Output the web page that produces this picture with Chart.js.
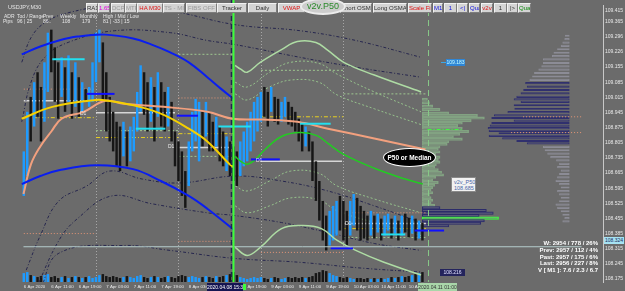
<!DOCTYPE html>
<html>
<head>
<meta charset="utf-8">
<title>USDJPY,M30</title>
<script src="https://cdn.jsdelivr.net/npm/chart.js@4.4.1/dist/chart.umd.min.js"></script>
<style>
  html, body { margin: 0; padding: 0; background: #6b6b6b; }
  #wrap { position: relative; width: 625px; height: 291px; overflow: hidden; font-family: "Liberation Sans", "DejaVu Sans", sans-serif; }
  #chart { position: absolute; left: 0; top: 0; }
  .ov { position: absolute; white-space: nowrap; }
  .btn { position: absolute; top: 3px; height: 10px; line-height: 8px; font-size: 6px; text-align: center; background: #d4d4d4;
         border: 1px solid; border-color: #f2f2f2 #7c7c7c #7c7c7c #f2f2f2; box-sizing: border-box; color: #303030; white-space: nowrap; overflow: hidden; }
  .info { position: absolute; font-size: 5px; color: #e6e6e6; white-space: nowrap; }
  .stats { position: absolute; right: 27px; top: 240px; font-size: 6px; font-weight: bold; color: #fff; text-align: right; line-height: 6.8px; }
  .tag { position: absolute; font-size: 5px; color: #e8e8e8; }
</style>
</head>
<body>
<div id="wrap">
  <canvas id="chart" width="625" height="291"></canvas>

  <div class="info" style="left:8px;top:4px;font-size:5.5px;">USDJPY,M30</div>
  <div class="info" style="left:4px;top:13px;">ADR</div>
  <div class="info" style="left:17px;top:13px;">Tod / Range</div>
  <div class="info" style="left:43px;top:13px;">Prev</div>
  <div class="info" style="left:60px;top:13px;">Weekly</div>
  <div class="info" style="left:80px;top:13px;">Monthly</div>
  <div class="info" style="left:103px;top:13px;">High / Mid / Low</div>
  <div class="info" style="left:3px;top:18px;">Pips</div>
  <div class="info" style="left:17px;top:18px;">96 | 25</div>
  <div class="info" style="left:43px;top:18px;">86..</div>
  <div class="info" style="left:62px;top:18px;">108</div>
  <div class="info" style="left:82px;top:18px;">179</div>
  <div class="info" style="left:103px;top:18px;">81 | -33 | 15</div>

  <div class="btn" style="left:86px;width:12px;">RA1</div>
  <div class="btn" style="left:98px;width:12px;color:#e000e0;">1.65</div>
  <div class="btn" style="left:111px;width:14px;color:#9a9a9a;">DCP</div>
  <div class="btn" style="left:125px;width:12px;color:#9a9a9a;">MTF</div>
  <div class="btn" style="left:137px;width:26px;color:#e01010;">HA M30</div>
  <div class="btn" style="left:163px;width:22px;color:#9a9a9a;">TS - MI</div>
  <div class="btn" style="left:186px;width:31px;color:#9a9a9a;">FIBS OFF</div>
  <div class="btn" style="left:217px;width:30px;">Tracker</div>
  <div class="btn" style="left:248px;width:29px;">Daily</div>
  <div class="btn" style="left:278px;width:27px;color:#e01010;">VWAP</div>
  <div class="btn" style="left:340px;width:32px;text-align:right;padding-right:2px;">Short OSMA</div>
  <div class="btn" style="left:373px;width:34px;">Long OSMA</div>
  <div class="btn" style="left:408px;width:24px;color:#e01010;">Scale Fix</div>
  <div class="btn" style="left:433px;width:10px;color:#1010e0;">M1</div>
  <div class="btn" style="left:444px;width:13px;color:#1010e0;">1</div>
  <div class="btn" style="left:457px;width:11px;color:#1010e0;">&lt;|</div>
  <div class="btn" style="left:469px;width:11px;color:#1010e0;">Qua</div>
  <div class="btn" style="left:481px;width:12px;color:#e01010;">v2v</div>
  <div class="btn" style="left:494px;width:13px;">1</div>
  <div class="btn" style="left:507px;width:11px;">|&gt;</div>
  <div class="btn" style="left:518px;width:13px;color:#108a10;">Qua</div>
  <div class="ov" style="left:300px;top:-2px;width:46px;height:17px;box-sizing:border-box;border:2px solid #ececec;border-radius:50%;background:#cdcdcd;color:#2a8a2a;font-size:9px;line-height:13px;text-align:center;">v2v.P50</div>

  <div class="tag" style="left:80px;top:110px;">D1</div>
  <div class="tag" style="left:168px;top:143px;">D1</div>
  <div class="tag" style="left:256px;top:157px;">D1</div>
  <div class="tag" style="left:345px;top:220px;">D1</div>

  <div class="ov" style="left:441px;top:62px;width:5px;height:1px;background:#3aa8e8;"></div>
  <div class="ov" style="left:446px;top:59px;width:19px;height:7px;background:#2f86d6;color:#c8ffff;font-size:5px;line-height:7px;text-align:center;">109.183</div>
  <div class="ov" style="left:440px;top:269px;width:25px;height:7px;background:#24245c;color:#e0e0ff;font-size:5px;line-height:7px;text-align:center;">108.216</div>

  <div class="ov" style="left:383px;top:148px;width:53px;height:19px;box-sizing:border-box;background:#000;border:1px solid #fff;border-radius:50%;color:#fff;font-size:6.5px;font-weight:bold;line-height:17px;text-align:center;">P50 or Median</div>
  <div class="ov" style="left:451px;top:177px;width:25px;height:15px;box-sizing:border-box;background:#f2f2f2;border:1px solid #8a8a8a;color:#4a68a8;font-size:5.5px;line-height:6px;padding:1px 2px;">v2v_P50<br>108.685</div>

  <div class="stats">W: 2954 / 778 / 26%<br>Prev: 2957 / 112 / 4%<br>Past: 2957 / 175 / 6%<br>Last: 2956 / 227 / 8%<br>V [ M1 ]: 7.6 / 2.3 / 6.7</div>

  <div class="ov" style="left:604px;top:237px;width:20px;height:7px;background:#a6e2f2;color:#1a2a5a;font-size:5px;line-height:7px;text-align:center;">108.324</div>
  <div class="ov" style="left:207px;top:283px;width:36px;height:8px;background:#151552;color:#fff;font-size:5px;line-height:8px;text-align:center;">2020.04.08 15:30</div>
  <div class="ov" style="left:243px;top:284px;width:3px;height:6px;background:#3cff3c;"></div>
  <div class="ov" style="left:418px;top:283px;width:39px;height:8px;background:#a9d6a9;color:#333;font-size:5px;line-height:8px;text-align:center;">2020.04.11 01:00</div>
</div>

<script>
// time axis in hours from 6 Apr 2020 00:00
const X_MIN = 2.9;
const X_MAX = 165.3;
const Y_MIN = 108.161;
const Y_MAX = 109.442;

const TICK_HOURS = [3, 11, 19, 27, 35, 43, 51, 67, 75, 83, 91, 99, 107, 115];
const TICK_LABELS = ["6 Apr 2020", "6 Apr 11:00", "6 Apr 19:00", "7 Apr 03:00", "7 Apr 11:00", "7 Apr 19:00", "8 Apr 03:00",
  "8 Apr 19:00", "9 Apr 03:00", "9 Apr 11:00", "9 Apr 19:00", "10 Apr 03:00", "10 Apr 11:00", "10 Apr 19:00"];
const PRICE_TICKS = [109.415, 109.365, 109.296, 109.226, 109.155, 109.085, 109.015, 108.945, 108.875, 108.805,
  108.735, 108.665, 108.595, 108.525, 108.455, 108.385, 108.315, 108.245, 108.175];

// hourly candles, first one at 6 Apr 03:00
const CANDLE_START_HOUR = 3;
const CANDLE_HIGH = [
  108.765, 108.948, 109.017, 109.085, 109.131, 109.063, 109.177, 109.314, 109.328, 109.246,
  109.177, 109.200, 109.154, 109.209, 109.131, 109.177, 109.108, 109.085, 109.053, 109.063,
  109.177, 109.314, 109.328, 109.269, 109.131, 109.017, 108.948, 108.902, 108.880, 108.902,
  108.857, 108.880, 108.925, 109.040, 109.163, 109.131, 109.085, 109.108, 109.063, 109.131,
  109.085, 109.040, 109.063, 108.994, 108.857, 108.811, 108.765, 108.674, 108.811, 108.948,
  109.008, 108.994, 108.948, 108.994, 108.948, 108.902, 108.925, 108.880, 108.857, 108.834,
  108.811, 108.788, 108.765, 108.811, 108.857, 108.902, 108.948, 108.994, 109.017, 109.040,
  109.063, 109.040, 109.063, 109.017, 109.008, 108.994, 109.017, 108.994, 108.971, 108.948,
  108.916, 108.902, 108.880, 108.857, 108.811, 108.719, 108.628, 108.536, 108.468, 108.490,
  108.513, 108.536, 108.559, 108.536, 108.490, 108.536, 108.568, 108.550, 108.513, 108.490,
  108.468, 108.490, 108.468, 108.477, 108.454, 108.468, 108.477, 108.454, 108.468, 108.445,
  108.468, 108.477, 108.458, 108.468, 108.454, 108.445, 108.436
];
const CANDLE_LOW = [
  108.559, 108.651, 108.811, 108.880, 108.925, 108.811, 108.902, 109.040, 109.131, 108.994,
  108.916, 109.017, 108.948, 108.994, 108.916, 108.971, 108.925, 108.948, 108.994, 108.971,
  108.994, 109.085, 109.177, 108.994, 108.857, 108.811, 108.765, 108.696, 108.674, 108.742,
  108.696, 108.719, 108.765, 108.857, 108.948, 108.934, 108.857, 108.902, 108.811, 108.925,
  108.880, 108.857, 108.880, 108.811, 108.696, 108.628, 108.559, 108.504, 108.605, 108.765,
  108.811, 108.719, 108.788, 108.834, 108.765, 108.765, 108.788, 108.719, 108.696, 108.674,
  108.651, 108.628, 108.605, 108.651, 108.696, 108.719, 108.765, 108.811, 108.857, 108.902,
  108.925, 108.880, 108.948, 108.902, 108.889, 108.902, 108.925, 108.889, 108.880, 108.857,
  108.811, 108.765, 108.788, 108.765, 108.628, 108.536, 108.445, 108.353, 108.307, 108.330,
  108.353, 108.376, 108.399, 108.353, 108.330, 108.376, 108.422, 108.399, 108.353, 108.362,
  108.353, 108.376, 108.362, 108.390, 108.353, 108.376, 108.399, 108.362, 108.385, 108.353,
  108.376, 108.390, 108.367, 108.385, 108.353, 108.362, 108.353
];
const CANDLE_UP = [
  1, 1, 0, 1, 0, 0, 1, 1, 0, 0,
  0, 1, 0, 1, 0, 1, 0, 1, 0, 1,
  1, 1, 1, 0, 0, 0, 0, 0, 0, 1,
  0, 1, 1, 1, 1, 0, 0, 1, 0, 1,
  0, 0, 1, 0, 0, 0, 0, 0, 1, 1,
  1, 1, 0, 1, 0, 0, 1, 0, 0, 1,
  0, 0, 0, 1, 1, 1, 1, 1, 1, 1,
  0, 0, 1, 0, 0, 1, 1, 0, 0, 0,
  0, 0, 1, 0, 0, 0, 0, 0, 0, 1,
  1, 1, 0, 0, 0, 1, 1, 0, 0, 0,
  0, 1, 0, 1, 0, 1, 1, 0, 1, 0,
  1, 0, 0, 1, 0, 1, 0
];
const VOLUME = [
  2250, 2500, 1750, 1500, 1250, 1500, 1750, 2000,
  1250, 1500, 1000, 1250, 1500, 1000, 1250, 1500, 1250, 1000,
  1250, 1500, 1000, 1250, 1750, 2000, 1500, 1250, 1500, 1250,
  1000, 1250, 1500, 1250, 1000, 1500, 1750, 1250, 1000, 1250,
  1500, 1250, 1000, 1250, 1500, 1250, 1000, 1500, 1750, 1500,
  1250, 1500, 1250, 1000, 1250, 1500, 1250, 1000, 1500, 1250,
  1500, 1750, 2000, 2500, 1750, 1250, 1000, 750, 1000, 1250,
  1000, 1250, 1000, 750, 1000, 1250, 1000, 750, 1000, 1250,
  1000, 1250, 1000, 1250, 1000, 1250, 1500, 2250, 2500, 3000,
  2750, 2250, 1750, 1500, 1250, 1000, 1250, 1000, 750, 1000,
  1000, 750, 1000, 750, 1000, 750, 1000, 750, 1000, 1250,
  1000, 1250, 1500, 1250, 1500, 1750, 2000, 2250, 2500
];
const VOLUME_AXIS_MAX = 70000;

// curved indicator lines (hour, price)
const ARC_UPPER_H = [2.4, 7.8, 13.2, 18.6, 26.7, 34.8, 40.2, 45.6, 51.0, 56.4, 60.5, 64.0];
const ARC_UPPER_P = [109.214, 109.250, 109.278, 109.296, 109.305, 109.287, 109.259, 109.223, 109.177, 109.108, 109.053, 109.008];
const ARC_LOWER_H = [2.4, 7.8, 13.2, 24.0, 34.8, 42.9, 51.0, 56.4, 64.0];
const ARC_LOWER_P = [108.614, 108.651, 108.678, 108.701, 108.683, 108.628, 108.559, 108.500, 108.404];
const YELLOW_H = [2.4, 11.3, 24.0, 27.5, 36.7, 43.7, 51.0, 56.4, 62.6, 64.0];
const YELLOW_P = [108.916, 108.971, 109.003, 108.999, 108.971, 108.934, 108.870, 108.811, 108.710, 108.692];
const SALMON_H = [2.9, 5.1, 7.8, 11.0, 14.0, 20.4, 26.7, 32.1, 43.7, 56.4, 63.7, 72.6, 82.6, 91.5, 105.0, 119.9];
const SALMON_P = [108.568, 108.706, 108.788, 108.857, 108.916, 108.948, 108.999, 108.985, 108.971, 108.948, 108.916, 108.912, 108.902, 108.870, 108.825, 108.774];
const GREEN_H = [64.5, 66.1, 68.0, 70.4, 73.2, 78.0, 83.4, 88.3, 91.5, 96.1, 105.0, 114.0, 119.1];
const GREEN_P = [108.742, 108.719, 108.706, 108.728, 108.774, 108.834, 108.852, 108.838, 108.802, 108.751, 108.687, 108.637, 108.614];
const PALE_UP_H = [64.5, 66.1, 68.0, 71.8, 78.0, 82.6, 88.0, 91.5, 96.1, 105.0, 118.6];
const PALE_UP_P = [109.163, 109.145, 109.131, 109.177, 109.236, 109.273, 109.269, 109.232, 109.177, 109.118, 109.040];
const PALE_LOW_H = [64.5, 68.0, 71.8, 78.0, 84.2, 89.6, 94.2, 99.6, 107.8, 118.6];
const PALE_LOW_P = [108.321, 108.284, 108.321, 108.408, 108.422, 108.408, 108.353, 108.307, 108.252, 108.193];
const INNER_H = [64.5, 68.0, 74.5, 80.7, 88.8, 94.2, 105.0, 118.6];
const INNER_A_P = [109.085, 109.063, 109.131, 109.177, 109.172, 109.122, 109.040, 108.948];
const INNER_B_P = [109.031, 109.003, 109.063, 109.095, 109.085, 109.026, 108.962, 108.889];
const INNER_C_P = [108.605, 108.582, 108.628, 108.674, 108.664, 108.605, 108.545, 108.481];
const INNER_D_P = [108.513, 108.481, 108.513, 108.550, 108.541, 108.490, 108.436, 108.376];
const NAVY_1_H = [2.4, 5.1, 9.1, 15.9, 29.4, 45.6, 64.5, 83.4, 99.6, 118.6];
const NAVY_1_P = [109.177, 109.291, 109.360, 109.406, 109.438, 109.415, 109.351, 109.323, 109.278, 109.200];
const NAVY_2_H = [2.4, 5.1, 9.1, 15.9, 29.4, 45.6, 56.4, 64.5, 83.4, 99.6, 118.6];
const NAVY_2_P = [108.902, 109.085, 109.200, 109.269, 109.323, 109.314, 109.278, 109.259, 109.200, 109.154, 109.108];
const NAVY_3_H = [3.7, 7.8, 13.2, 21.3, 28.0, 37.5, 48.3, 64.5, 78.0, 91.5, 105.0, 118.6];
const NAVY_3_P = [108.216, 108.376, 108.536, 108.605, 108.674, 108.637, 108.619, 108.651, 108.628, 108.582, 108.513, 108.436];
const NAVY_4_H = [6.4, 13.2, 18.6, 28.6, 40.2, 56.4, 64.5, 78.0, 91.5, 105.0, 118.6];
const NAVY_4_P = [108.124, 108.353, 108.454, 108.559, 108.523, 108.481, 108.468, 108.436, 108.390, 108.339, 108.307];
const NAVY_5_H = [7.8, 13.2, 32.1, 45.6, 63.7, 83.4, 101.5, 118.6];
const NAVY_5_P = [108.124, 108.294, 108.330, 108.307, 108.271, 108.252, 108.225, 108.207];

// horizontal levels: [from hour, to hour, price]
const PIVOT_LEVELS = [[3, 22, 108.999], [24, 47, 108.944], [48, 64, 108.783], [72, 95.6, 108.719], [96, 120, 108.431]];
const YELLOW_LEVELS = [[3, 24, 108.921], [24, 48, 108.829], [48, 64, 108.847], [72, 96, 108.925], [96, 120, 108.408]];
const SALMON_LEVELS = [[3, 24, 109.053], [48, 64, 109.012], [3, 24, 108.385], [48, 64, 108.349], [72, 96, 108.298],
  [96, 120, 108.481], [148.3, 165.3, 108.925], [144.8, 165.3, 108.852]];
const PALE_LEVELS = [[48, 64, 109.214], [72, 96, 109.140], [96, 120, 109.031], [24, 48, 108.861], [48, 64, 108.742], [96, 120, 108.367]];
const CYAN_LEVELS = [[11.3, 20.7, 109.191], [35.6, 44.2, 108.870], [59.6, 69.1, 108.880], [83.4, 92.3, 108.893], [107, 114, 108.381]];
const BLUE_LEVELS = [[21.3, 29.4, 109.031], [47.5, 53.7, 108.930], [69.1, 77.5, 108.728], [92.3, 98.8, 108.317], [116.7, 125.3, 108.399]];
const P50_LEVEL = [[120.5, 130.8, 108.866]];
const BID_PRICE = 108.324;

// vertical markers
const DAY_STARTS = [24, 48, 72, 96];
const CURSOR_HOUR = 63.2;
const SIGNAL_HOUR = 63.9;
const SHIFT_HOUR = 120.5;

// volume profiles: price level and length (hours)
const PROFILE_A_ANCHOR = 120.5;
const PROFILE_A_P = [109.040, 109.021, 109.003, 108.985, 108.966, 108.953, 108.939, 108.925, 108.912, 108.898,
  108.884, 108.866, 108.852, 108.838, 108.825, 108.811, 108.797, 108.783, 108.770, 108.756,
  108.742, 108.728, 108.715, 108.701, 108.687, 108.674, 108.660, 108.646, 108.632, 108.619,
  108.605, 108.591, 108.577, 108.564, 108.550, 108.536, 108.523, 108.509, 108.495, 108.481,
  108.468, 108.454, 108.440, 108.426, 108.413, 108.399, 108.385, 108.371, 108.358];
const PROFILE_A_W = [1.6, 2.2, 3.2, 5.4, 8.1, 16.8, 18.9, 14.9, 12.2, 10.8,
  12.2, 14.1, 11.4, 9.5, 12.2, 8.1, 7.6, 5.4, 4.9, 5.4,
  4.1, 5.4, 4.9, 5.4, 4.3, 3.8, 4.9, 5.9, 6.5, 4.1,
  3.2, 4.9, 3.8, 3.2, 2.7, 3.2, 2.2, 2.7, 3.2, 2.7,
  3.8, 5.4, 19.5, 21.6, 17.3, 23.2, 18.9, 17.8, 8.1];
const PROFILE_B_ANCHOR = 165.3;
const PROFILE_B_P = [109.383, 109.365, 109.346, 109.328, 109.310, 109.291, 109.273, 109.255, 109.236, 109.218,
  109.200, 109.182, 109.163, 109.145, 109.127, 109.108, 109.090, 109.072, 109.053, 109.040,
  109.026, 109.008, 108.989, 108.971, 108.953, 108.939, 108.925, 108.912, 108.898, 108.884,
  108.870, 108.857, 108.843, 108.829, 108.815, 108.802, 108.783, 108.765, 108.747, 108.728,
  108.710, 108.692, 108.674, 108.655, 108.637, 108.619, 108.600, 108.582, 108.564, 108.545,
  108.527, 108.509, 108.490, 108.472, 108.454, 108.436, 108.417, 108.399, 108.381];
const PROFILE_B_W = [1.4, 1.6, 2.2, 2.7, 3.8, 4.9, 5.4, 8.1, 8.1, 8.6,
  9.5, 10.8, 11.4, 12.2, 13.5, 13.0, 14.1, 14.9, 16.2, 17.0,
  14.9, 17.0, 16.8, 18.9, 23.0, 23.8, 17.0, 23.8, 24.3, 24.9,
  24.6, 21.6, 24.6, 20.5, 16.2, 13.0, 8.1, 7.6, 6.8, 5.9,
  4.1, 3.2, 3.8, 2.7, 3.2, 3.8, 4.3, 3.2, 2.7, 3.8,
  3.2, 2.7, 3.2, 4.3, 3.8, 2.7, 2.2, 1.6, 2.2];

const UP_COLOR = "#1e9bff";
const DOWN_COLOR = "#161616";

const hours = CANDLE_HIGH.map((_, i) => CANDLE_START_HOUR + i);
const candleColors = CANDLE_UP.map(u => u ? UP_COLOR : DOWN_COLOR);

function curve(hs, ps, color, width, dash, order) {
  return {
    type: "line",
    data: hs.map((h, i) => ({ x: h, y: ps[i] })),
    borderColor: color, borderWidth: width, borderDash: dash || [],
    pointRadius: 0, tension: 0.4, fill: false, order: order,
    xAxisID: "x", yAxisID: "y"
  };
}

function levels(list, color, width, dash, order) {
  return list.map(([a, b, p]) => ({
    type: "line",
    data: [{ x: a, y: p }, { x: b, y: p }],
    borderColor: color, borderWidth: width, borderDash: dash || [],
    pointRadius: 0, fill: false, order: order,
    xAxisID: "x", yAxisID: "y"
  }));
}

const maxA = Math.max(...PROFILE_A_W);

const datasets = [
  // profiles behind everything
  {
    type: "bar", indexAxis: "y", xAxisID: "xp", yAxisID: "ypa", grouped: false, order: 30,
    data: PROFILE_A_P.map((p, i) => ({ y: p, x: [PROFILE_A_ANCHOR, PROFILE_A_ANCHOR + PROFILE_A_W[i]] })),
    backgroundColor: PROFILE_A_P.map(p => p < 108.46 ? "rgba(120,120,135,0.5)" : "rgba(0,0,0,0)"),
    borderColor: PROFILE_A_W.map((w, i) => w === maxA ? "#3cff3c" : PROFILE_A_P[i] < 108.46 ? "#2c2c6a" : "#82a282"),
    borderWidth: 1, borderSkipped: false, barPercentage: 1, categoryPercentage: 1, maxBarThickness: 3
  },
  {
    type: "bar", indexAxis: "y", xAxisID: "xp", yAxisID: "ypb", grouped: false, order: 30,
    data: PROFILE_B_P.map((p, i) => ({ y: p, x: [PROFILE_B_ANCHOR - PROFILE_B_W[i], PROFILE_B_ANCHOR] })),
    backgroundColor: PROFILE_B_P.map(p => (p > 108.80 && p < 109.06) ? "rgba(140,140,155,0.5)" : "rgba(0,0,0,0)"),
    borderColor: PROFILE_B_P.map(p => (p > 108.80 && p < 109.13) ? "#30306e" : "#8c8c96"),
    borderWidth: 1, borderSkipped: false, barPercentage: 1, categoryPercentage: 0.9, maxBarThickness: 4
  },
  // volume
  {
    type: "bar", xAxisID: "x", yAxisID: "yv", grouped: false, order: 28,
    data: hours.map((h, i) => ({ x: h, y: VOLUME[i] })),
    backgroundColor: candleColors, maxBarThickness: 3
  },
  ...levels(SALMON_LEVELS, "#e59676", 1, [1, 2], 20),
  ...levels(PALE_LEVELS, "#9fc890", 1, [2, 2], 20),
  ...levels(YELLOW_LEVELS, "#e8d020", 1, [4, 2, 1, 2], 20),
  ...levels(PIVOT_LEVELS, "#d6d6d6", 1.5, [], 20),
  curve(NAVY_1_H, NAVY_1_P, "#26264e", 1, [3, 2, 1, 2], 18),
  curve(NAVY_2_H, NAVY_2_P, "#26264e", 1, [3, 2, 1, 2], 18),
  curve(NAVY_3_H, NAVY_3_P, "#26264e", 1, [3, 2, 1, 2], 18),
  curve(NAVY_4_H, NAVY_4_P, "#26264e", 1, [3, 2, 1, 2], 18),
  curve(NAVY_5_H, NAVY_5_P, "#26264e", 1, [3, 2, 1, 2], 18),
  curve(INNER_H, INNER_A_P, "#96c28c", 1, [2, 2], 18),
  curve(INNER_H, INNER_B_P, "#96c28c", 1, [2, 2], 18),
  curve(INNER_H, INNER_C_P, "#96c28c", 1, [2, 2], 18),
  curve(INNER_H, INNER_D_P, "#96c28c", 1, [2, 2], 18),
  // candles
  {
    type: "bar", xAxisID: "x", yAxisID: "y", grouped: false, order: 12,
    data: hours.map((h, i) => ({ x: h, y: [CANDLE_LOW[i], CANDLE_HIGH[i]] })),
    backgroundColor: candleColors, maxBarThickness: 3
  },
  curve(ARC_UPPER_H, ARC_UPPER_P, "#0a1ef0", 2, [], 6),
  curve(ARC_LOWER_H, ARC_LOWER_P, "#0a1ef0", 2, [], 6),
  curve(YELLOW_H, YELLOW_P, "#f5d000", 2, [], 6),
  curve(SALMON_H, SALMON_P, "#f2a07e", 2, [], 6),
  curve(GREEN_H, GREEN_P, "#22cc22", 1.5, [], 6),
  curve(PALE_UP_H, PALE_UP_P, "#aedca4", 1.5, [], 6),
  curve(PALE_LOW_H, PALE_LOW_P, "#aedca4", 1.5, [], 6),
  ...levels(CYAN_LEVELS, "#22e0f0", 2, [], 4),
  ...levels(BLUE_LEVELS, "#1010ff", 2, [], 4),
  ...levels(P50_LEVEL, "#3cff3c", 1, [4, 2, 1, 2], 4),
  ...levels([[X_MIN, X_MAX, BID_PRICE]], "#b4cccc", 1, [], 3)
];

const markerPlugin = {
  id: "markers",
  beforeDatasetsDraw(chart) {
    const { ctx, chartArea: a, scales: { x } } = chart;
    ctx.save();
    ctx.strokeStyle = "#a6a6a6";
    ctx.lineWidth = 1;
    ctx.setLineDash([1, 2]);
    DAY_STARTS.forEach(h => {
      const px = Math.round(x.getPixelForValue(h)) + 0.5;
      ctx.beginPath(); ctx.moveTo(px, a.top); ctx.lineTo(px, a.bottom); ctx.stroke();
    });
    ctx.restore();
  },
  afterDatasetsDraw(chart) {
    const { ctx, chartArea: a, scales: { x } } = chart;
    const vline = (h, color, width, dash) => {
      const px = Math.round(x.getPixelForValue(h)) + 0.5;
      ctx.save();
      ctx.strokeStyle = color; ctx.lineWidth = width; ctx.setLineDash(dash);
      ctx.beginPath(); ctx.moveTo(px, 0); ctx.lineTo(px, a.bottom); ctx.stroke();
      ctx.restore();
    };
    vline(CURSOR_HOUR, "#24244e", 1.5, [5, 3]);
    vline(SIGNAL_HOUR, "#3cff3c", 2, []);
    vline(SHIFT_HOUR, "#86c886", 1, [6, 4]);
  }
};

new Chart(document.getElementById("chart").getContext("2d"), {
  type: "bar",
  data: { datasets },
  plugins: [markerPlugin],
  options: {
    responsive: false,
    animation: false,
    events: [],
    layout: { padding: { left: 2, top: 2, right: 0, bottom: 0 } },
    plugins: { legend: { display: false }, tooltip: { enabled: false } },
    scales: {
      x: {
        type: "linear", min: X_MIN, max: X_MAX,
        grid: { display: false, drawTicks: false }, border: { display: false },
        afterBuildTicks: s => { s.ticks = TICK_HOURS.map(v => ({ value: v })); },
        afterFit: s => { s.height = 9; },
        ticks: {
          autoSkip: false, maxRotation: 0, align: "start", padding: 2, color: "#e8e8e8",
          font: { size: 4.4, family: "Liberation Sans" },
          callback: v => TICK_LABELS[TICK_HOURS.indexOf(v)]
        }
      },
      y: {
        type: "linear", position: "right", min: Y_MIN, max: Y_MAX,
        grid: { display: false, drawTicks: false }, border: { color: "#c8c8c8" },
        afterBuildTicks: s => { s.ticks = PRICE_TICKS.map(v => ({ value: v })); },
        afterFit: s => { s.width = 22; },
        ticks: {
          autoSkip: false, padding: 2, color: "#e8e8e8",
          font: { size: 5, family: "Liberation Sans" },
          callback: v => v.toFixed(3)
        }
      },
      yv: { type: "linear", display: false, min: 0, max: VOLUME_AXIS_MAX },
      xp: { type: "linear", display: false, min: X_MIN, max: X_MAX },
      ypa: { type: "linear", display: false, min: Y_MIN, max: Y_MAX },
      ypb: { type: "linear", display: false, min: Y_MIN, max: Y_MAX }
    }
  }
});
</script>
</body>
</html>
